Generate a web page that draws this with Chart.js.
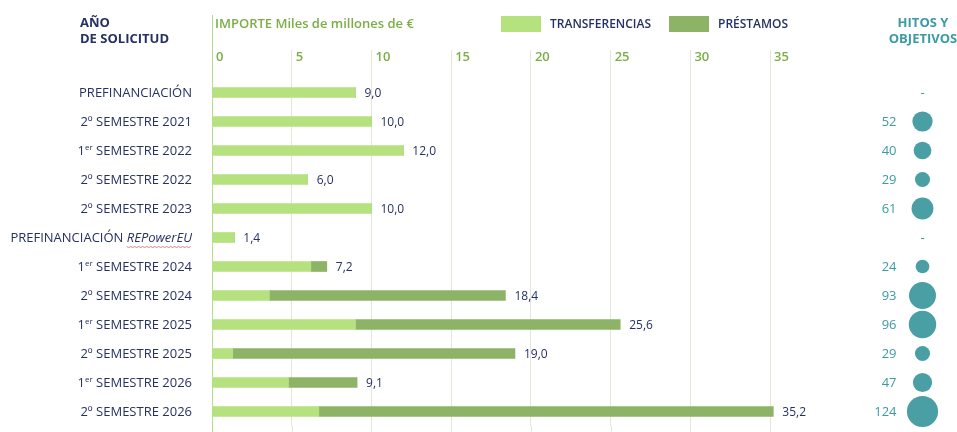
<!DOCTYPE html>
<html lang="es">
<head>
<meta charset="utf-8">
<title>Solicitudes de pago</title>
<script src="https://cdn.jsdelivr.net/npm/chart.js@4.4.1/dist/chart.umd.min.js"></script>
<style>
  body { margin: 0; background: #fff; font-family: 'Open Sans', sans-serif; }
  #wrap { position: relative; width: 957px; height: 432px; overflow: hidden; }
  #wrap canvas { position: absolute; top: 0; }
  #mainChart { left: 0; }
  #hitosChart { left: 840px; }
  .head { position: absolute; font-size: 13px; line-height: 16px; font-weight: 700; white-space: nowrap; }
  #colAnio { left: 80px; top: 14px; color: #263163; }
  #colImporte { left: 215px; top: 15px; color: #7aae46; font-weight: 600; }
  #colHitos { left: 878px; top: 14px; width: 90px; text-align: center; color: #3b9ba3; }
  .ley { position: absolute; top: 15px; display: flex; align-items: center; font-size: 12px; font-weight: 600; color: #263163; }
  .ley i { display: inline-block; width: 40px; height: 16px; margin-right: 9px; }
</style>
</head>
<body>
<div id="wrap">
  <canvas id="mainChart" width="957" height="432"></canvas>
  <canvas id="hitosChart" width="140" height="456"></canvas>
  <div class="head" id="colAnio">AÑO<br>DE SOLICITUD</div>
  <div class="head" id="colImporte">IMPORTE Miles de millones de €</div>
  <div class="head" id="colHitos">HITOS Y<br>OBJETIVOS</div>
</div>
<script>
// datos
const categorias = ['PREFINANCIACIÓN', '2º SEMESTRE 2021', '1er SEMESTRE 2022', '2º SEMESTRE 2022', '2º SEMESTRE 2023',
  'PREFINANCIACIÓN REPowerEU', '1er SEMESTRE 2024', '2º SEMESTRE 2024', '1er SEMESTRE 2025', '2º SEMESTRE 2025',
  '1er SEMESTRE 2026', '2º SEMESTRE 2026'];
const transferencias = [9.0, 10.0, 12.0, 6.0, 10.0, 1.4, 6.2, 3.6, 9.0, 1.3, 4.8, 6.7];
const prestamos = [0, 0, 0, 0, 0, 0, 1.0, 14.8, 16.6, 17.7, 4.3, 28.5];
const hitos = [null, 52, 40, 29, 61, null, 24, 93, 96, 29, 47, 124];
const ticksImporte = [0, 5, 10, 15, 20, 25, 30, 35];

const azul = '#263163';
const verdeTexto = '#7aae46';
const teal = '#3b9ba3';

// etiquetas del eje Y (con superindice y cursiva)
function partes(label) {
  let m = label.match(/^(1)(er)( .*)$/);
  if (m) return [{ t: m[1] }, { t: m[2], sup: true }, { t: m[3] }];
  m = label.match(/^(.* )(REPowerEU)$/);
  if (m) return [{ t: m[1] }, { t: m[2], it: true }];
  return [{ t: label }];
}

function fuente(p) {
  if (p.sup) return '8px "Open Sans"';
  if (p.it) return 'italic 13px "Open Sans"';
  return '13px "Open Sans"';
}

const etiquetasPlugin = {
  id: 'etiquetas',
  beforeDatasetsDraw(chart) {
    const { ctx, chartArea, scales: { x } } = chart;
    ctx.save();
    ctx.lineWidth = 1;
    // lineas hasta el borde inferior
    x.ticks.forEach(t => {
      const px = Math.round(x.getPixelForValue(t.value)) + 0.5;
      ctx.strokeStyle = t.value === 0 ? '#b9dc8e' : '#e2e7da';
      ctx.beginPath();
      ctx.moveTo(px, chartArea.bottom);
      ctx.lineTo(px, chart.height);
      ctx.stroke();
    });
    // eje 0 hasta arriba
    const x0 = Math.round(x.getPixelForValue(0)) + 0.5;
    ctx.strokeStyle = '#b9dc8e';
    ctx.beginPath();
    ctx.moveTo(x0, 15);
    ctx.lineTo(x0, chartArea.top);
    ctx.stroke();
    ctx.restore();
  },
  afterDatasetsDraw(chart) {
    const { ctx, scales: { x, y } } = chart;
    ctx.save();
    ctx.textBaseline = 'middle';
    ctx.fillStyle = azul;
    // totales
    ctx.font = '12px "Open Sans"';
    ctx.textAlign = 'left';
    categorias.forEach((c, i) => {
      const total = transferencias[i] + prestamos[i];
      ctx.fillText(total.toFixed(1).replace('.', ','), x.getPixelForValue(total) + 9, y.getPixelForValue(i) + 1);
    });
    // categorias
    const derecha = x.left - 20;
    categorias.forEach((c, i) => {
      const py = y.getPixelForValue(i) + 1;
      const ps = partes(c);
      let ancho = 0;
      ps.forEach(p => { ctx.font = fuente(p); p.w = ctx.measureText(p.t).width; ancho += p.w; });
      let px = derecha - ancho;
      ps.forEach(p => {
        ctx.font = fuente(p);
        ctx.fillText(p.t, px, p.sup ? py - 4 : py);
        if (p.it) {
          ctx.strokeStyle = '#e06060';
          ctx.lineWidth = 0.8;
          ctx.beginPath();
          for (let k = 0; k <= p.w; k += 2) {
            const yy = py + 8 + ((k / 2) % 2 ? 1 : 0);
            if (k === 0) ctx.moveTo(px + k, yy); else ctx.lineTo(px + k, yy);
          }
          ctx.stroke();
        }
        px += p.w;
      });
    });
    ctx.restore();
  }
};

const mainChart = new Chart(document.getElementById('mainChart'), {
  type: 'bar',
  data: {
    labels: categorias,
    datasets: [
      { label: 'TRANSFERENCIAS', data: transferencias, backgroundColor: '#b5e27f', barThickness: 10 },
      { label: 'PRÉSTAMOS', data: prestamos, backgroundColor: '#8db366', barThickness: 10 }
    ]
  },
  options: {
    indexAxis: 'y',
    responsive: false,
    animation: false,
    layout: { padding: { left: 0, right: 155, top: 0, bottom: 6 } },
    scales: {
      x: {
        position: 'top',
        stacked: true,
        min: 0,
        max: 37,
        afterBuildTicks: s => { s.ticks = ticksImporte.map(v => ({ value: v })); },
        afterFit: s => { s.height = 78; },
        border: { display: false },
        grid: {
          color: c => (c.tick && c.tick.value === 0 ? '#b9dc8e' : '#e2e7da'),
          tickLength: 28,
          drawTicks: true
        },
        ticks: {
          align: 'start',
          labelOffset: 4,
          padding: -15,
          color: verdeTexto,
          font: { family: 'Open Sans', size: 13, weight: '600' }
        }
      },
      y: {
        stacked: true,
        afterFit: s => { s.width = 212; },
        grid: { display: false },
        border: { display: false },
        ticks: { display: false }
      }
    },
    plugins: {
      legend: { display: false },
      tooltip: { enabled: false }
    }
  },
  plugins: [etiquetasPlugin]
});

// leyenda a partir de las series
const posLeyenda = [501, 669];
mainChart.data.datasets.forEach((ds, i) => {
  const item = document.createElement('div');
  item.className = 'ley';
  item.style.left = posLeyenda[i] + 'px';
  item.innerHTML = `<i style="background:${ds.backgroundColor}"></i>${ds.label}`;
  document.getElementById('wrap').appendChild(item);
});

// columna de hitos y objetivos
const hitosPlugin = {
  id: 'hitosTexto',
  afterDatasetsDraw(chart) {
    const { ctx, scales: { x, y } } = chart;
    ctx.save();
    ctx.font = '13px "Open Sans"';
    ctx.fillStyle = teal;
    ctx.textBaseline = 'middle';
    const cx = x.getPixelForValue(0);
    hitos.forEach((v, i) => {
      const py = y.getPixelForValue(i) + 1;
      if (v === null) {
        ctx.textAlign = 'center';
        ctx.fillText('-', cx, py);
      } else {
        ctx.textAlign = 'right';
        ctx.fillText(String(v), cx - 26, py);
      }
    });
    ctx.restore();
  }
};

// el lienzo sobresale del marco para que el margen minimo de las burbujas no desplace el area
new Chart(document.getElementById('hitosChart'), {
  type: 'bubble',
  data: {
    labels: categorias,
    datasets: [{
      data: hitos.map((v, i) => ({ v, i }))
        .filter(d => d.v !== null)
        .map(d => ({ x: 0, y: categorias[d.i], r: 1.4 * Math.sqrt(d.v) })),
      backgroundColor: '#4a9fa5',
      borderWidth: 0,
      clip: false
    }]
  },
  options: {
    responsive: false,
    animation: false,
    layout: { padding: { left: 49, right: 24, top: 78, bottom: 30 } },
    scales: {
      x: { type: 'linear', min: -1, max: 1, display: false },
      y: { type: 'category', offset: true, display: false }
    },
    plugins: {
      legend: { display: false },
      tooltip: { enabled: false }
    }
  },
  plugins: [hitosPlugin]
});
</script>
</body>
</html>
